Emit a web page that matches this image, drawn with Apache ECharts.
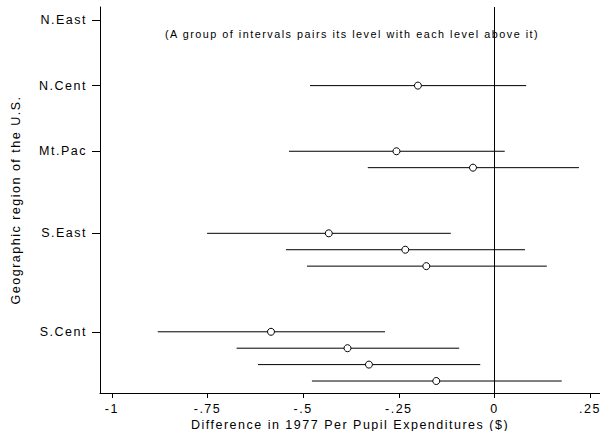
<!DOCTYPE html>
<html>
<head>
<meta charset="utf-8">
<script src="https://cdn.jsdelivr.net/npm/echarts@6/dist/echarts.min.js"></script>
<style>
  html, body { margin: 0; padding: 0; background: #fff; }
  #chart { width: 600px; height: 431px; }
  /* the original's type is set wide */
  #chart svg text { letter-spacing: 1.5px; }
</style>
</head>
<body>
<div id="chart"></div>
<script>
// region labels and their rows (row index counted from the top)
const regions = ['N.East', 'N.Cent', 'Mt.Pac', 'S.East', 'S.Cent'];
const regionRows = [0, 4, 8, 13, 19];

// one interval per row: row, lower, upper, estimate
const rows = [4, 8, 9, 13, 14, 15, 19, 20, 21, 22];
const lower = [-0.482, -0.537, -0.331, -0.751, -0.545, -0.490, -0.880, -0.674, -0.618, -0.477];
const upper = [0.083, 0.027, 0.221, -0.114, 0.080, 0.137, -0.286, -0.092, -0.037, 0.176];
const estimate = [-0.200, -0.256, -0.056, -0.433, -0.233, -0.178, -0.584, -0.384, -0.328, -0.152];

const xTicks = [-1, -0.75, -0.5, -0.25, 0, 0.25];
const xTickLabels = ['-1', '-.75', '-.5', '-.25', '0', '.25'];

const font = 'Liberation Sans, Arial, sans-serif';

const chart = echarts.init(document.getElementById('chart'), null, { renderer: 'svg' });

const data = rows.map((r, i) => [r, lower[i], upper[i], estimate[i]]);

chart.setOption({
    animation: false,
    backgroundColor: '#fff',
    textStyle: { fontFamily: font },
    // keep the plot box fixed; labels may run to the edge
    grid: { left: 100, right: 0, top: 7, bottom: 38, outerBoundsMode: 'none', containLabel: false },
    graphic: [
        {
            type: 'text',
            left: 165,
            top: 28,
            style: {
                text: '(A group of intervals pairs its level with each level above it)',
                font: '10.8px ' + font,
                fill: '#000',
            },
        },
    ],
    xAxis: {
        type: 'value',
        min: -1.031,
        max: 0.276,
        name: 'Difference in 1977 Per Pupil Expenditures ($)',
        nameLocation: 'middle',
        nameGap: 25,
        nameMoveOverlap: false,
        nameTextStyle: { fontSize: 12.5, color: '#000', fontFamily: font },
        axisLine: { show: true, onZero: false, lineStyle: { color: '#000', width: 1 } },
        axisTick: {
            show: true,
            length: 5,
            customValues: xTicks,
            lineStyle: { color: '#000' },
        },
        axisLabel: {
            customValues: xTicks,
            margin: 9,
            fontSize: 12.5,
            color: '#000',
            formatter: v => xTickLabels[xTicks.indexOf(v)] ?? '',
        },
        splitLine: { show: false },
    },
    yAxis: {
        type: 'value',
        inverse: true,
        min: -0.79,
        max: 22.73,
        name: 'Geographic region of the U.S.',
        nameLocation: 'middle',
        nameGap: 78,
        nameMoveOverlap: false,
        nameTextStyle: { fontSize: 12.5, color: '#000', fontFamily: font },
        axisLine: { show: true, onZero: false, lineStyle: { color: '#000', width: 1 } },
        axisTick: {
            show: true,
            length: 8,
            customValues: regionRows,
            lineStyle: { color: '#000' },
        },
        axisLabel: {
            customValues: regionRows,
            margin: 13,
            fontSize: 12.5,
            color: '#000',
            formatter: v => regions[regionRows.indexOf(v)] ?? '',
        },
        splitLine: { show: false },
    },
    series: [
        {
            type: 'custom',
            data: data,
            encode: { x: [1, 2, 3], y: 0 },
            renderItem: (params, api) => {
                const y = api.value(0);
                const p1 = api.coord([api.value(1), y]);
                const p2 = api.coord([api.value(2), y]);
                const pe = api.coord([api.value(3), y]);
                return {
                    type: 'group',
                    children: [
                        {
                            type: 'line',
                            shape: { x1: p1[0], y1: p1[1], x2: p2[0], y2: p2[1] },
                            style: { stroke: '#000', lineWidth: 1 },
                        },
                        {
                            type: 'circle',
                            shape: { cx: pe[0], cy: pe[1], r: 3.5 },
                            style: { fill: '#fff', stroke: '#000', lineWidth: 1 },
                        },
                    ],
                };
            },
            markLine: {
                silent: true,
                symbol: ['none', 'none'],
                label: { show: false },
                lineStyle: { color: '#000', width: 1, type: 'solid' },
                data: [{ xAxis: 0 }],
            },
        },
    ],
});
</script>
</body>
</html>
